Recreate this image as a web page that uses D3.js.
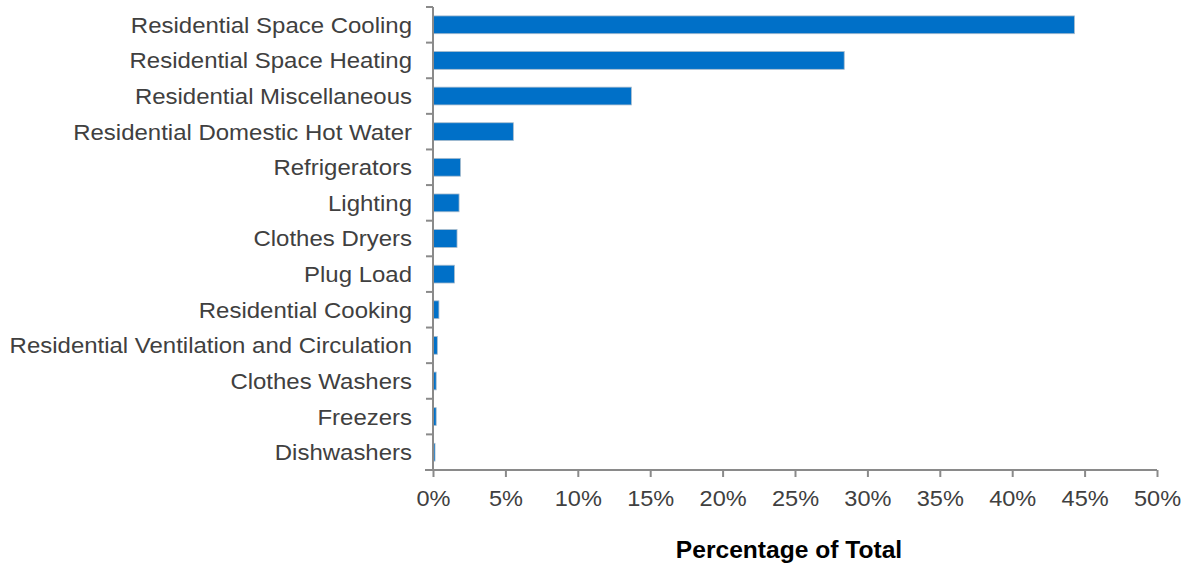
<!DOCTYPE html>
<html>
<head>
<meta charset="utf-8">
<script src="https://cdn.jsdelivr.net/npm/d3@7"></script>
<style>
  body { margin: 0; background: #fff; }
  svg text { font-family: "Liberation Sans", Arial, sans-serif; }
</style>
</head>
<body>
<svg id="chart" width="1188" height="567"></svg>
<script>
// categories, top to bottom
const categories = [
  "Residential Space Cooling",
  "Residential Space Heating",
  "Residential Miscellaneous",
  "Residential Domestic Hot Water",
  "Refrigerators",
  "Lighting",
  "Clothes Dryers",
  "Plug Load",
  "Residential Cooking",
  "Residential Ventilation and Circulation",
  "Clothes Washers",
  "Freezers",
  "Dishwashers"
];
// percentage of total
const values = [44.3, 28.4, 13.7, 5.55, 1.9, 1.8, 1.66, 1.48, 0.41, 0.3, 0.22, 0.22, 0.14];
const xTicks = [0, 5, 10, 15, 20, 25, 30, 35, 40, 45, 50];

const margin = { top: 7, left: 433, right: 31, bottom: 97 };
const width = 1188 - margin.left - margin.right,
  height = 567 - margin.top - margin.bottom;

// the original text is a bit wider than Liberation Sans
const stretch = 1.09;

const svg = d3.select("#chart")
  .append("g")
  .attr("transform", "translate(" + margin.left + "," + margin.top + ")");

const x = d3.scaleLinear().domain([0, 50]).range([0, width]);
const y = d3.scaleBand().domain(categories).range([0, height]).paddingInner(0.5).paddingOuter(0.25);

const axisColor = "#8a8a8a";

// bars
svg.selectAll(".bar")
  .data(categories)
  .enter()
  .append("rect")
  .attr("class", "bar")
  .attr("x", 0)
  .attr("y", d => y(d))
  .attr("height", y.bandwidth())
  .attr("width", (d, i) => x(values[i]))
  .attr("fill", "#0070c8")
  .attr("stroke", "#a9bccd")
  .attr("stroke-width", 0.8);

// y axis: tick marks between categories
const bandStep = height / categories.length;
const yAxis = svg.append("g").attr("class", "y axis");
yAxis.append("line")
  .attr("x1", 0).attr("x2", 0)
  .attr("y1", 0).attr("y2", height)
  .attr("stroke", axisColor).attr("stroke-width", 2);
yAxis.selectAll(".ytick")
  .data(d3.range(categories.length))
  .enter()
  .append("line")
  .attr("x1", -7).attr("x2", 0)
  .attr("y1", i => i * bandStep).attr("y2", i => i * bandStep)
  .attr("stroke", axisColor).attr("stroke-width", 2);
yAxis.selectAll(".ylabel")
  .data(categories)
  .enter()
  .append("text")
  .attr("transform", d => "translate(-21," + (y(d) + y.bandwidth() / 2) + ") scale(" + stretch + ",1)")
  .attr("dy", "0.36em")
  .attr("text-anchor", "end")
  .attr("fill", "#404040")
  .style("font-size", "22px")
  .text(d => d);

// x axis
const xAxis = d3.axisBottom(x)
  .tickValues(xTicks)
  .tickSize(7)
  .tickPadding(10)
  .tickFormat(d => d + "%");

const gx = svg.append("g")
  .attr("class", "x axis")
  .attr("transform", "translate(0," + height + ")")
  .call(xAxis);
gx.select(".domain").attr("stroke", axisColor).attr("stroke-width", 2)
  .attr("d", "M-8,0H" + width);
gx.selectAll(".tick line").attr("stroke", axisColor).attr("stroke-width", 2);
gx.selectAll(".tick text")
  .attr("y", null)
  .attr("dy", null)
  .attr("transform", "translate(0,36) scale(1.07,1)")
  .attr("fill", "#404040")
  .style("font-size", "22px")
  .style("font-family", "'Liberation Sans', Arial, sans-serif");

// axis title
svg.append("text")
  .attr("transform", "translate(" + (x(25) - 6) + "," + (height + 88) + ") scale(1.07,1)")
  .attr("text-anchor", "middle")
  .attr("fill", "#000")
  .style("font-size", "23px")
  .style("font-weight", "bold")
  .text("Percentage of Total");
</script>
</body>
</html>
